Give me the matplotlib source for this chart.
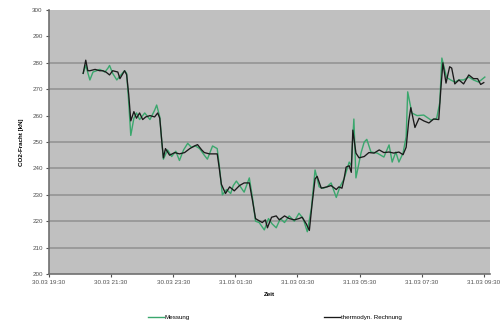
import matplotlib
matplotlib.use("Agg")
import matplotlib.pyplot as plt
import matplotlib.dates as mdates
import numpy as np
import pandas as pd

# time axis origin and tick settings
start = pd.Timestamp("2008-03-30 19:30")
x_end = pd.Timestamp("2008-03-31 09:42")
tick_hours = 2
y_ticks = [200, 210, 220, 230, 240, 250, 260, 270, 280, 290, 300]
grid_values = [210, 220, 230, 240, 250, 270, 280]

# Measured series (minutes after 30.03 19:30, value)
mess_min = [66, 71, 79, 85, 92, 98, 108, 114, 117, 123, 131, 137, 146, 150, 154, 158,
            164, 169, 175, 185, 195, 204, 208, 214, 218, 221, 229, 237, 245, 252, 260,
            268, 275, 283, 291, 300, 306, 316, 325, 329, 335, 343, 351, 356, 362, 370,
            377, 387, 393, 399, 406, 416, 424, 431, 439, 447, 455, 464, 474, 483, 491,
            499, 507, 514, 522, 530, 537, 545, 555, 562, 570, 580, 584, 589, 593, 603,
            609, 614, 622, 634, 647, 657, 663, 670, 676, 684, 690, 693, 701, 711, 724,
            738, 749, 755, 759, 768, 776, 784, 792, 801, 811, 820, 830, 842]
mess_val = [276, 279, 273.5, 276.5, 277, 277.5, 276.5, 278, 279, 276, 273.5, 275, 277, 276, 265, 252.5,
            259, 261, 258.5, 261, 258.5, 262, 264, 259.5, 250, 243.5, 247, 244.5, 246.5, 243, 247,
            249.5, 248, 248.5, 247.5, 245, 243.5, 248.5, 247.5, 241, 230, 232, 230.5, 233.5, 235.2, 233,
            231, 236.4, 229, 220, 219.5, 216.7, 221, 219, 217.5, 221, 219.5, 222, 220, 223, 221,
            216, 225, 239.4, 233, 232.5, 233, 234.5, 229, 233, 236, 242.4, 241, 258.7, 236.4, 246,
            250, 251, 246.2, 245.8, 244.3, 248.9, 242.4, 246.2, 242.4, 245.8, 252, 269, 261, 260, 260.2,
            258.3, 259, 265, 281.8, 274.5, 273.5, 272.7, 273.5, 273.5, 274.6, 273.5, 272.7, 274.6]

# Thermodynamic calculation series
rech_min = [66, 71, 75, 79, 89, 98, 104, 110, 117, 123, 133, 137, 143, 146, 150, 154, 158,
            164, 169, 175, 181, 187, 195, 204, 210, 214, 218, 221, 225, 233, 243, 252, 262,
            272, 281, 287, 295, 300, 310, 320, 325, 329, 333, 341, 349, 358, 368, 377, 387,
            393, 399, 403, 412, 418, 422, 430, 439, 445, 455, 464, 474, 483, 489, 497, 503,
            508, 514, 518, 526, 537, 545, 555, 560, 566, 570, 574, 580, 584, 587, 593, 599,
            609, 618, 628, 638, 647, 657, 666, 676, 684, 690, 695, 699, 707, 715, 724, 734,
            743, 753, 757, 761, 767, 774, 778, 784, 792, 801, 811, 820, 828, 834, 840]
rech_val = [276, 281, 277, 277, 277.5, 277, 277, 276.5, 275.4, 277, 276.5, 274, 276, 277, 275.5, 268, 258,
            261.5, 259, 261, 258.5, 259.5, 260, 259.5, 261, 259, 250, 244, 247.5, 245, 246, 245.5, 246,
            247.5, 248.5, 249, 247, 246, 245.5, 245.5, 245.5, 240, 234, 230.5, 233, 231.5, 233.5, 234.5, 234.5,
            228, 221, 220.5, 219.5, 220.5, 217.5, 221.5, 222, 220.5, 222, 221, 220.5, 221, 221.5, 219, 216.5,
            226, 236, 237, 232.5, 233, 233.5, 232, 233, 232.5, 236, 240.5, 241, 238.5, 254.5, 245.8, 244,
            244.5, 246, 245.8, 247, 246, 246.2, 245.8, 246.2, 245.2, 248, 258, 263, 255.5, 259, 258, 257.2,
            258.7, 258.5, 270, 280, 272.3, 278.5, 278, 272, 273.5, 272, 275.4, 274, 274, 271.8, 272.5]

mess_t = start + pd.to_timedelta(mess_min, unit="m")
rech_t = start + pd.to_timedelta(rech_min, unit="m")

plt.rcParams['font.family'] = ['Liberation Sans', 'DejaVu Sans']

fig = plt.figure(figsize=(5.04, 3.22), dpi=100)
ax = fig.add_axes([49/504, 48/322, 441/504, 264/322])
ax.set_facecolor("#c0c0c0")

for g in grid_values:
    ax.axhline(g, color="#909090", lw=1.1, zorder=1)

ax.plot(mess_t, mess_val, color="#3aa76d", lw=1.0, zorder=3, label="Messung")
ax.plot(rech_t, rech_val, color="#1a1a1a", lw=0.95, zorder=4, label="thermodyn. Rechnung")

ax.set_ylim(200, 300)
ax.set_xlim(start, x_end)
ax.set_yticks(y_ticks)
ax.xaxis.set_major_formatter(mdates.DateFormatter("%d.%m %H:%M"))
ax.set_xticks([start + pd.Timedelta(hours=h) for h in range(0, 15, tick_hours)])

for s in ["top", "right"]:
    ax.spines[s].set_visible(False)
for s in ["left", "bottom"]:
    ax.spines[s].set_color("#707070")
    ax.spines[s].set_linewidth(1.2)

ax.tick_params(axis="both", labelsize=4.5, colors="#505050", length=2.5, width=0.8, pad=2)
ax.set_xlabel("Zeit", fontsize=4.5, fontweight="bold", labelpad=5)
ax.set_ylabel("CO2-Fracht [kN]", fontsize=4.5, fontweight="bold", labelpad=6)

fig.legend(loc="center", bbox_to_anchor=(275/504, 1 - 317/322), ncol=2, frameon=False,
           fontsize=4.5, handlelength=2.5, columnspacing=21.5, handletextpad=0.2)

fig.savefig("out.png", dpi=100, facecolor="white")
